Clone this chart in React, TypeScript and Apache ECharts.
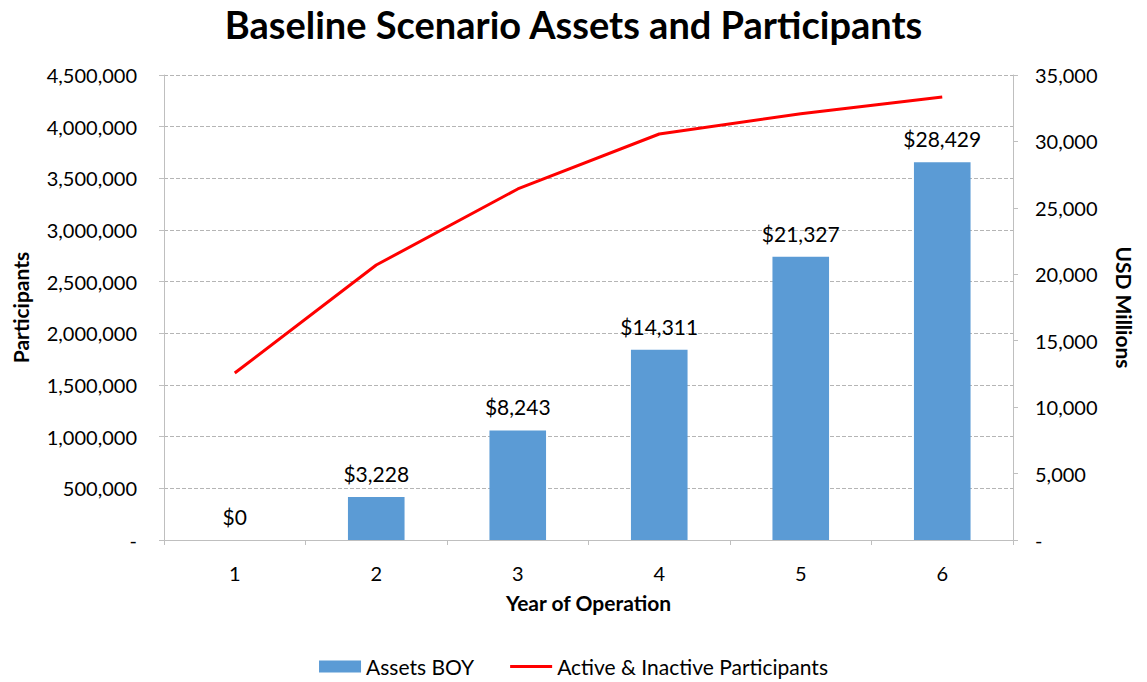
import React, { useEffect, useRef } from "react";
import * as echarts from "echarts";

const years = ["1", "2", "3", "4", "5", "6"];
const assetsBOY = [0, 3228, 8243, 14311, 21327, 28429];
const participants = [1616000, 2661000, 3397000, 3929000, 4125000, 4287000];
const leftTicks = { min: 0, max: 4500000, interval: 500000 };
const rightTicks = { min: 0, max: 35000, interval: 5000 };

const FONT = "Lato";

const fmt = (v: number) => (v === 0 ? "-" : v.toLocaleString("en-US"));

export default function App() {
  const ref = useRef<HTMLDivElement>(null);
  useEffect(() => {
    if (!ref.current) return;
    const chart = echarts.init(ref.current, undefined, { renderer: "svg" });
    chart.setOption({
      animation: false,
      textStyle: { fontFamily: FONT },
      title: {
        text: "Baseline Scenario Assets and Participants",
        left: "center",
        top: 0,
        textStyle: { fontFamily: FONT, fontSize: 38, fontWeight: "bold", color: "#000" },
      },
      grid: {
        left: 164,
        right: 134,
        top: 75,
        bottom: 142,
        containLabel: false,
        outerBoundsMode: "none",
      },
      legend: {
        top: 651,
        left: "center",
        itemWidth: 42,
        itemHeight: 12,
        itemGap: 36,
        symbolKeepAspect: true,
        textStyle: { fontFamily: FONT, fontSize: 21, color: "#000" },
        data: [
          { name: "Assets BOY", icon: "rect" },
          { name: "Active & Inactive Participants", icon: "path://M0,0H14V1H0Z" },
        ],
      },
      xAxis: {
        type: "category",
        data: years,
        name: "Year of Operation",
        nameLocation: "middle",
        nameGap: 52,
        nameTextStyle: { fontFamily: FONT, fontSize: 21, fontWeight: "bold", color: "#000" },
        axisLine: { lineStyle: { color: "#bfbfbf", width: 1 } },
        axisTick: { show: true, length: 5, lineStyle: { color: "#bfbfbf" } },
        axisLabel: { margin: 23, fontFamily: FONT, fontSize: 20, color: "#000" },
      },
      yAxis: [
        {
          type: "value",
          position: "left",
          ...leftTicks,
          name: "Participants",
          nameLocation: "middle",
          nameRotate: 90,
          nameGap: 133,
          nameTextStyle: { fontFamily: FONT, fontSize: 21, fontWeight: "bold", color: "#000" },
          axisLine: { show: true, lineStyle: { color: "#bfbfbf" } },
          axisTick: { show: true, length: 5, lineStyle: { color: "#bfbfbf" } },
          axisLabel: { margin: 27, fontFamily: FONT, fontSize: 20, color: "#000", formatter: fmt },
          splitLine: { show: true, lineStyle: { color: "#b5b5b5", type: [4, 2] } },
        },
        {
          type: "value",
          position: "right",
          ...rightTicks,
          name: "USD Millions",
          nameLocation: "middle",
          nameRotate: -90,
          nameGap: 101,
          nameTextStyle: { fontFamily: FONT, fontSize: 21, fontWeight: "bold", color: "#000" },
          axisLine: { show: true, lineStyle: { color: "#bfbfbf" } },
          axisTick: { show: true, length: 5, lineStyle: { color: "#bfbfbf" } },
          axisLabel: { margin: 22, fontFamily: FONT, fontSize: 20, color: "#000", formatter: fmt },
          splitLine: { show: false },
        },
      ],
      series: [
        {
          name: "Assets BOY",
          type: "bar",
          yAxisIndex: 1,
          data: assetsBOY,
          barWidth: "40%",
          itemStyle: { color: "#5b9bd5" },
          label: {
            show: true,
            position: "top",
            distance: 13,
            fontFamily: FONT,
            fontSize: 21,
            color: "#000",
            formatter: (p: any) => "$" + Number(p.value).toLocaleString("en-US"),
          },
        },
        {
          name: "Active & Inactive Participants",
          type: "line",
          yAxisIndex: 0,
          data: participants,
          showSymbol: false,
          symbol: "none",
          lineStyle: { color: "#ff0000", width: 3 },
          itemStyle: { color: "#ff0000" },
        },
      ],
    });
    return () => chart.dispose();
  }, []);
  return (
    <div
      ref={ref}
      style={{ position: "fixed", left: 0, top: 0, width: 1147, height: 682, background: "#fff" }}
    />
  );
}
